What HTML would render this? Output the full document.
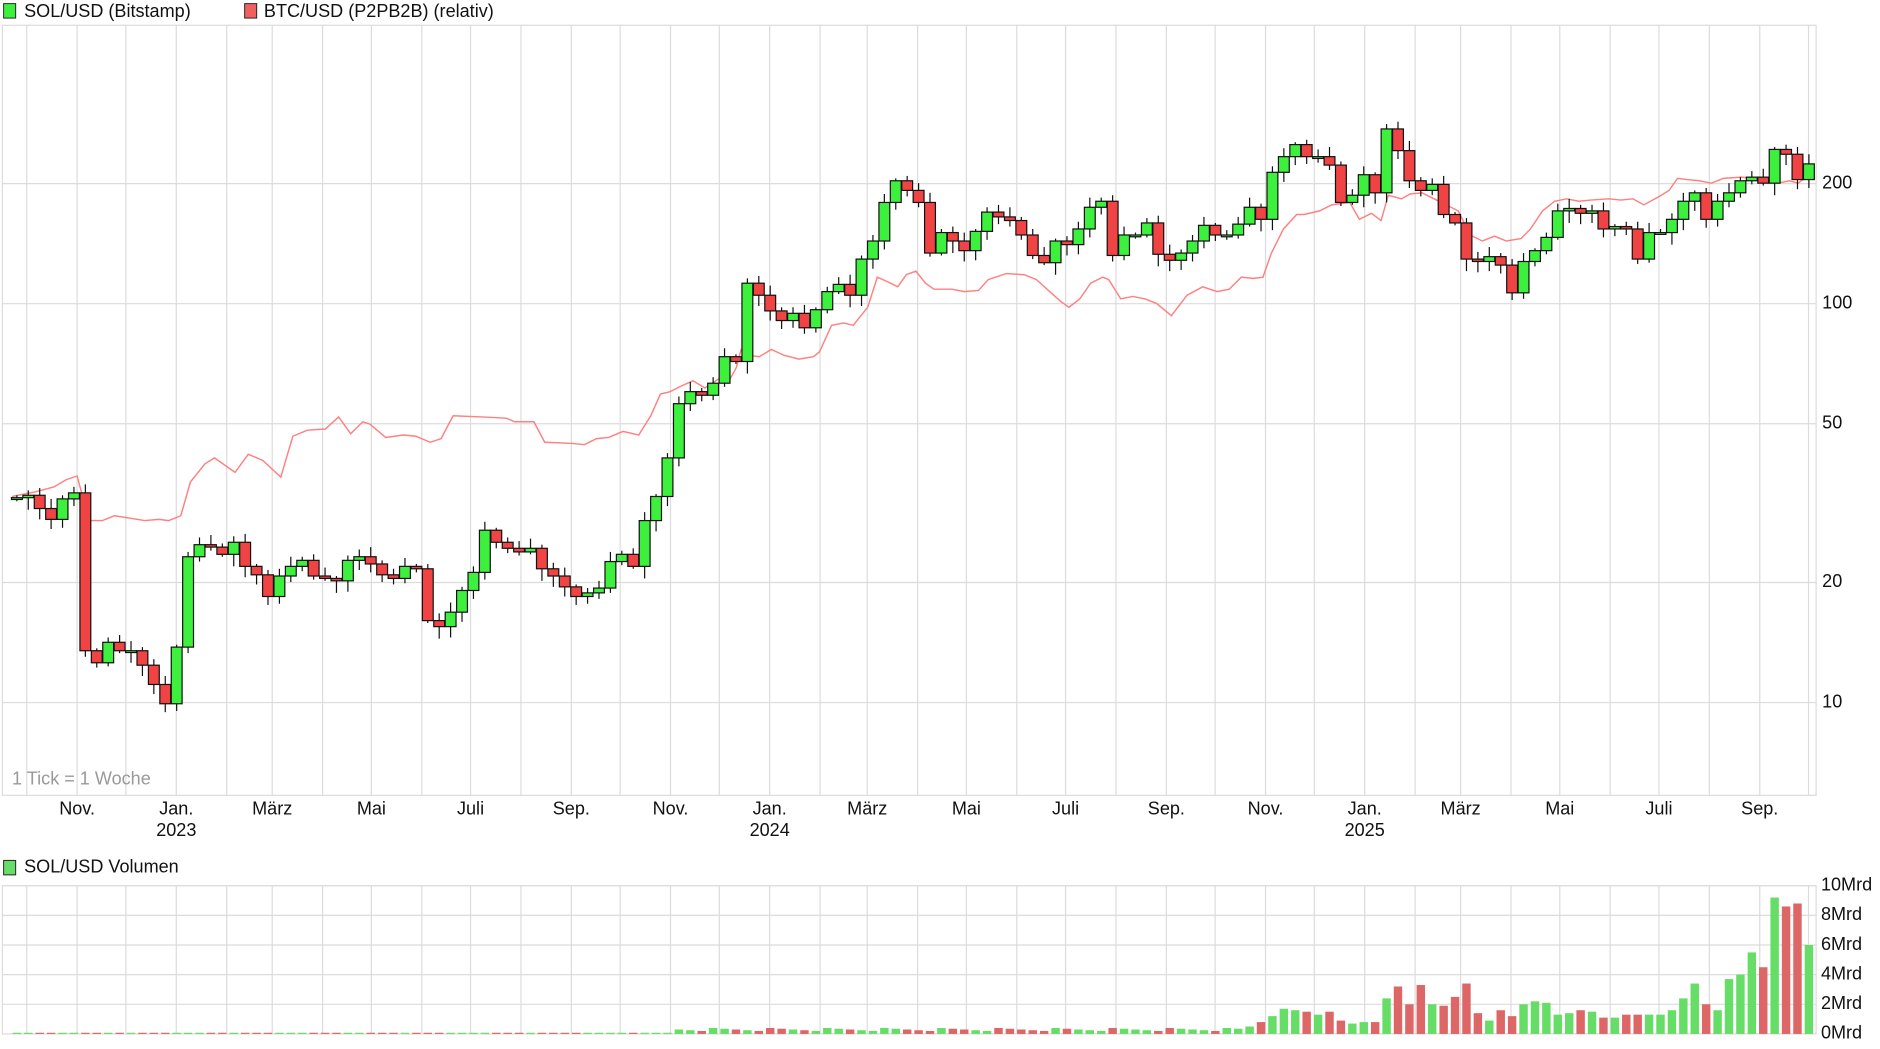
<!DOCTYPE html>
<html><head><meta charset="utf-8"><style>
html,body{margin:0;padding:0;background:#fff;width:1880px;height:1049px;overflow:hidden}
svg{display:block;font-family:"Liberation Sans",Arial,sans-serif}
</style></head><body>
<svg id="s" width="1880" height="1049" viewBox="0 0 1560 870.5" preserveAspectRatio="none" xmlns="http://www.w3.org/2000/svg"></svg>
<script>
(function(){
var s=document.getElementById('s'),h='';
function L(x1,y1,x2,y2,c,w){h+='<line x1="'+x1+'" y1="'+y1+'" x2="'+x2+'" y2="'+y2+'" stroke="'+c+'" stroke-width="'+(w||1)+'"/>';}
function T(x,y,t,a,c,fs){h+='<text x="'+x+'" y="'+y+'" font-size="'+(fs||15)+'" fill="'+(c||'#111')+'" text-anchor="'+(a||'start')+'" dominant-baseline="middle">'+t+'</text>';}
var G='#dcdcdc';
var base=Date.UTC(2022,10,1),mx=[];
for(var yr=2022;yr<=2025;yr++)for(var m=0;m<12;m++){var d=Date.UTC(yr,m,1);var x=64+(d-base)/864e5*1.349;if(x>3&&x<1505)mx.push([x,yr,m]);}
mx.forEach(function(p){L(p[0],21,p[0],660,G);L(p[0],735,p[0],858,G);});
[200,100,50,20,10].forEach(function(v){var yy=252-331*Math.log10(v/100);L(2,yy,1507,yy,G);T(1512,yy,v);});
h+='<rect x="2" y="21" width="1505" height="639" fill="none" stroke="'+G+'"/>';
h+='<rect x="2" y="735" width="1505" height="123" fill="none" stroke="'+G+'"/>';
[10,8,6,4,2,0].forEach(function(v){var yy=858-12.3*v;L(2,yy,1507,yy,G);T(1511,yy,v+'Mrd');});
var names={0:'Jan.',2:'März',4:'Mai',6:'Juli',8:'Sep.',10:'Nov.'};
mx.forEach(function(p){if(names[p[2]]!==undefined){T(p[0],672,names[p[2]],'middle');if(p[2]==0)T(p[0],690,p[1],'middle');}});
T(10,647,'1 Tick = 1 Woche','start','#999');
h+='<rect x="3" y="3" width="10" height="12" fill="#3ef03e" stroke="#222" stroke-width="0.8"/>';T(20,10,'SOL/USD (Bitstamp)');
h+='<rect x="203" y="3" width="10" height="12" fill="#f06060" stroke="#222" stroke-width="0.8"/>';T(219,10,'BTC/USD (P2PB2B) (relativ)');
h+='<rect x="3" y="714" width="10" height="12" fill="#66dd66" stroke="#222" stroke-width="0.8"/>';T(20,720,'SOL/USD Volumen');
var b=[[10,412],[30,408],[45,404],[55,398],[64,395],[68,410],[72,432],[85,432],[95,428],[108,430],[120,432],[132,431],[140,432],[150,428],[158,400],[170,385],[178,380],[195,392],[206,377],[218,382],[233,396],[243,362],[255,357],[270,356],[281,346],[291,360],[301,350],[307,352],[320,363],[335,361],[345,362],[357,367],[366,364],[376,345],[400,346],[420,347],[427,350],[443,350],[452,367],[475,368],[485,369],[495,364],[505,363],[517,358],[530,361],[540,345],[548,327],[556,325],[566,320],[575,316],[585,322],[597,314],[605,316],[611,305],[615,290],[622,295],[630,296],[640,290],[651,295],[663,298],[675,296],[680,292],[690,270],[700,268],[708,270],[720,255],[728,230],[737,234],[745,238],[752,228],[760,225],[768,235],[775,240],[790,240],[800,242],[812,241],[820,232],[835,227],[850,228],[860,232],[880,250],[887,255],[896,248],[905,235],[915,230],[920,232],[930,248],[940,246],[950,248],[960,252],[972,262],[985,245],[998,238],[1010,242],[1020,240],[1030,230],[1040,231],[1048,230],[1055,210],[1065,190],[1076,178],[1082,178],[1095,175],[1105,170],[1113,169],[1120,168],[1128,182],[1138,177],[1146,183],[1152,162],[1163,165],[1170,161],[1180,160],[1190,165],[1200,170],[1210,175],[1220,195],[1230,200],[1240,196],[1250,200],[1262,198],[1270,190],[1280,175],[1290,167],[1300,165],[1310,167],[1320,166],[1335,165],[1345,166],[1355,165],[1364,170],[1377,163],[1385,158],[1392,148],[1400,149],[1410,150],[1420,152],[1430,148],[1445,147],[1455,148],[1465,150],[1475,152],[1485,150],[1492,152],[1500,146]];
h+='<polyline fill="none" stroke="#ff8080" stroke-width="1.2" points="'+b.map(function(p){return p.join(',')}).join(' ')+'"/>';
var c=[413,411,422,431,414,409,540,550,533,540,540,552,568,584,537,462,452,454,460,450,470,477,495,478,470,465,478,480,482,465,462,468,477,480,470,472,515,520,508,490,475,440,450,455,458,455,472,478,487,495,492,488,466,460,470,432,412,380,335,325,328,318,296,300,235,245,258,266,260,272,257,242,236,245,215,200,168,150,158,168,210,193,200,208,192,176,180,183,195,212,218,200,203,190,172,167,212,195,195,185,211,216,210,200,187,195,195,186,172,182,143,130,120,130,130,137,168,162,145,160,107,125,150,158,153,178,185,215,217,213,220,243,217,208,197,175,173,177,175,190,188,190,215,193,193,182,167,160,182,167,160,150,147,152,124,128,149,136];
var n=c.length,step=(1501-14)/(n-1);
var vt=[[1150,2.4],[1160,3.2],[1170,2.0],[1180,3.3],[1190,2.0],[1200,1.9],[1208,2.5],[1217,3.4],[1227,1.4],[1236,0.9],[1245,1.6],[1255,1.2],[1265,2.0],[1275,2.2],[1283,2.1],[1293,1.3],[1302,1.4],[1312,1.6],[1322,1.5],[1331,1.1],[1340,1.1],[1350,1.3],[1359,1.3],[1368,1.3],[1378,1.3],[1387,1.6],[1397,2.4],[1407,3.4],[1417,2.0],[1426,1.6],[1436,3.7],[1446,4.0],[1455,5.5],[1465,4.5],[1473,9.2],[1482,8.6],[1492,8.8],[1501,6.0]];
var early=[0.5,0.8,1.2,1.7,1.6,1.5,1.3,1.5,0.9,0.7,0.8];
var ei=0;
for(var i=0;i<n;i++){
 var x=14+i*step,o=i?c[i-1]:c[0]+1,cl=c[i];
 var up=cl<=o,tp=Math.min(o,cl),bt=Math.max(o,cl);
 var r1=((i*37)%7)+2,r2=((i*53)%9)+2;
 L(x,tp-r1,x,bt+r2,'#111',1);
 h+='<rect x="'+(x-4.5)+'" y="'+tp+'" width="9" height="'+Math.max(bt-tp,1.5)+'" fill="'+(up?'#3ef03e':'#f04444')+'" stroke="#111" stroke-width="1"/>';
 var v;
 if(x>=1145){var best=vt[0];vt.forEach(function(p){if(Math.abs(p[0]-x)<Math.abs(best[0]-x))best=p;});v=best[1];}
 else if(x>=1035){v=early[Math.min(ei++,early.length-1)];}
 else if(x>=560){v=0.2+((i*29)%5)*0.05;}
 else v=0.08;
 h+='<rect x="'+(x-3.5)+'" y="'+(858-v*12.3)+'" width="7" height="'+(v*12.3)+'" fill="'+(up?'#66dd66':'#dd6666')+'"/>';
}
s.innerHTML=h;
})();
</script>
</body></html>
